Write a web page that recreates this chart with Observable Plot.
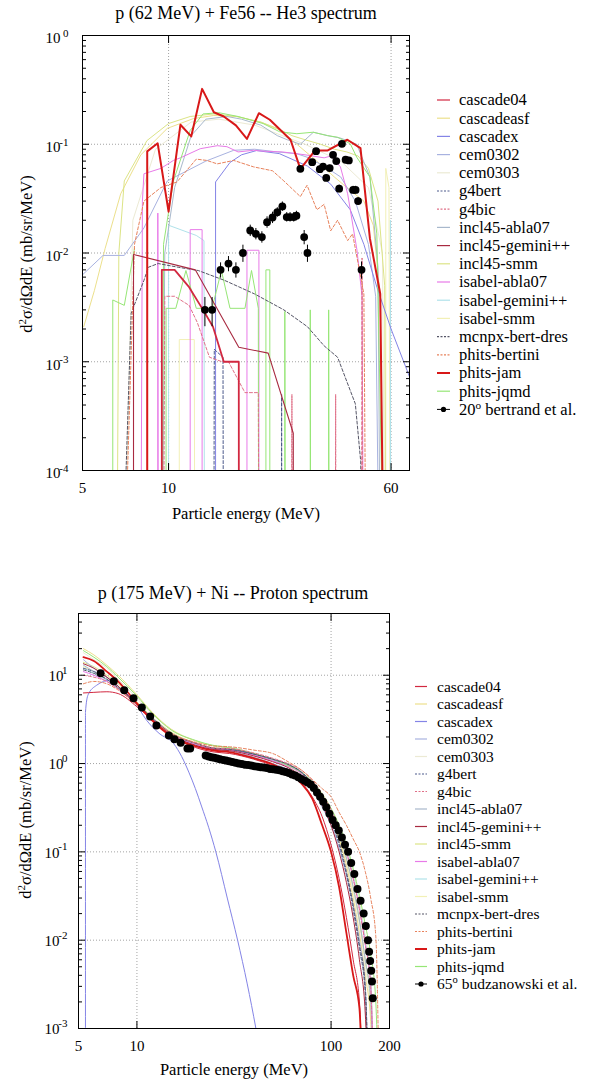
<!DOCTYPE html>
<html><head><meta charset="utf-8">
<script src="https://cdn.jsdelivr.net/npm/d3@7"></script>
<script src="https://cdn.jsdelivr.net/npm/@observablehq/plot@0.6"></script>
<style>
body{margin:0;background:#fff;}
#root{position:relative;width:598px;height:1082px;overflow:hidden;background:#fff;}
#root svg{position:absolute;left:0;}
</style></head>
<body><div id="root"></div>
<script>
// ---------------- text ----------------
const topTitle = "p (62 MeV) + Fe56 -- He3 spectrum";
const botTitle = "p (175 MeV) + Ni -- Proton spectrum";
const xLabel = "Particle energy (MeV)";
const topDataLabel = ["20", "o", " bertrand et al."];
const botDataLabel = ["65", "o", " budzanowski et al."];

// ---------------- axes ----------------
const topXTicks = [5, 10, 60];
const topXGrid = [10, 60];
const topYTicks = [1e-4, 1e-3, 1e-2, 1e-1, 1];
const botXTicks = [5, 10, 100, 200];
const botXGrid = [10, 100];
const botYTicks = [1e-3, 1e-2, 1e-1, 1, 10];

// ---------------- legend ----------------
const modelNames = ["cascade04","cascadeasf","cascadex","cem0302","cem0303","g4bert","g4bic",
  "incl45-abla07","incl45-gemini++","incl45-smm","isabel-abla07","isabel-gemini++","isabel-smm",
  "mcnpx-bert-dres","phits-bertini","phits-jam","phits-jqmd"];
const modelColors = ["#d22840","#ece08c","#8484e6","#a8b2e0","#ecead4","#4c5a8c","#e07088",
  "#a8b8cc","#a82a40","#dce486","#e87ae8","#b0e2ea","#f2f0b6",
  "#555566","#e8825c","#d81818","#96e676"];
const modelDash = [null,null,null,null,null,"3,2","3,2",null,null,null,null,null,null,"3,2","3,2",null,null];

// ---------------- top panel data: [E (MeV), d2s (mb/sr/MeV)] ----------------
const topCascade04 = [[9.47,1e-5],[9.47,0.007],[10.5,0.007],[11.8,0.00485],[13.2,0.003],[14.3,0.0021],[15.6,0.001],[17.6,0.001],[17.62,1e-5]];
const topCascadeasf = [[5.05,0.0021],[5.5,0.0045],[6.0,0.011],[6.8,0.035],[8.0,0.08],[9.9,0.14],[12.2,0.172],[14.4,0.184],[17.3,0.18],[21,0.16],[24.5,0.135],[28.1,0.1],[33,0.07],[38,0.05],[43,0.038],[48.2,0.03],[52,0.018],[55,0.004],[56,1e-5]];
const topCascadex = [[14.6,1e-5],[14.6,0.045],[16.4,0.068],[18,0.08],[20.3,0.0875],[24.4,0.082],[30.6,0.063],[36.9,0.043],[43.2,0.025],[48.2,0.012],[53.6,0.0048],[60,0.002],[70,0.0007]];
const topCem0302 = [[5.0,0.0063],[5.9,0.0095],[7.0,0.0095],[8.2,0.017],[9.9,0.046],[11.6,0.057],[13.5,0.07],[16.9,0.088],[20,0.09],[24,0.085],[28,0.082],[31,0.075],[36,0.06],[40,0.05],[45,0.03],[50,0.012],[53,0.004],[54.5,1e-5]];
const topCem0303 = [[7.0,1e-5],[7.5,0.02],[9,0.09],[12,0.16],[15,0.17],[20,0.15],[30,0.1],[40,0.07],[50,0.04],[56,0.01],[57,1e-5]];
const topG4bert = [[14.4,1e-5],[14.45,0.0013],[15.5,0.0011],[15.55,1e-5],[24.8,1e-5],[24.85,0.0005],[24.9,1e-5]];
const topG4bic = [[9.6,1e-5],[9.7,0.004],[10.5,0.004],[11.8,0.0033],[12.6,0.0023],[13.9,0.0011],[15.4,0.001],[16.2,0.001],[18.5,0.00052],[20.6,0.00052],[20.7,1e-5],[26.9,1e-5],[27.0,0.0005],[27.1,1e-5],[38.3,1e-5],[38.4,0.0005],[38.5,1e-5],[47.3,1e-5],[47.5,0.009],[47.7,1e-5]];
const topIncl45Abla07 = [[9.5,1e-5],[9.7,0.01],[10.5,0.04],[12,0.12],[13.5,0.17],[16,0.18],[18,0.17],[21,0.15],[24,0.12],[26,0.11],[28.9,0.1],[32.1,0.129],[36,0.12],[39.9,0.114],[45.5,0.1],[50.6,0.05],[54,0.0074],[55,1e-5]];
const topIncl45Gemini = [[7.54,1e-5],[7.54,0.0097],[12.4,0.007],[17.6,0.00136],[22.3,0.0012],[27.3,0.00022],[27.32,1e-5]];
const topIncl45Smm = [[6.6,1e-5],[6.7,0.01],[7.0,0.046],[8.4,0.108],[10,0.155],[11.9,0.18],[14.4,0.19],[17.3,0.18],[21,0.16],[24,0.14],[27,0.12],[30,0.11],[34,0.1],[38,0.09],[42,0.085],[46,0.078],[50,0.06],[54,0.03],[57,0.005],[57.5,1e-5]];
const topIsabelAbla07 = [[8.0,1e-5],[8.1,0.03],[8.2,0.0535],[9.4,0.06],[10.4,0.071],[11,0.075],[12.9,0.091],[14.8,0.097],[16,0.095],[17.5,0.085],[19.8,0.088],[22,0.086],[25,0.085],[30,0.08],[35,0.075],[37,0.078],[39.9,0.062],[42.3,0.035],[45.6,0.0106],[47.5,0.004],[48,1e-5]];
const topIsabelAbla07Low = [[9.17,1e-5],[9.17,0.0233],[9.2,1e-5],[11.9,1e-5],[11.9,0.0164],[13.1,0.0164],[13.1,1e-5],[18.8,1e-5],[18.8,0.0106],[20.7,0.0106],[20.7,1e-5]];
const topIsabelGemini = [[10,1e-5],[10,0.018],[12.5,0.0145],[13.3,0.013],[13.35,1e-5],[59.7,1e-5],[59.7,0.02],[59.8,1e-5]];
const topIsabelSmm = [[10.9,1e-5],[10.9,0.0016],[12.3,0.0016],[12.35,1e-5],[57.5,1e-5],[57.5,0.06],[59,0.04],[59.5,1e-5]];
const topMcnpx = [[6.9,1e-5],[7.4,0.0028],[8.2,0.0056],[8.5,0.0074],[9.2,0.008],[10.8,0.0074],[12.7,0.0069],[15.7,0.0056],[20,0.0042],[25.3,0.003],[30.6,0.0021],[35,0.0014],[39,0.0011],[45,0.00041],[47,0.00012],[47.2,1e-5]];
const topPhitsBertini = [[7.0,1e-5],[7.6,0.012],[8.2,0.03],[9.4,0.04],[10.7,0.045],[12.5,0.073],[13.6,0.071],[14.8,0.066],[16.9,0.071],[19.8,0.062],[23.1,0.057],[25.3,0.046],[28.9,0.033],[30.5,0.042],[33,0.025],[35,0.028],[36.9,0.016],[39,0.02],[42.3,0.013],[44,0.015],[45.6,0.0091],[48.2,0.0042],[49,1e-5]];
const topPhitsJam = [[8.42,1e-5],[8.42,0.086],[9.16,0.102],[10.0,0.024],[11.0,0.151],[12.0,0.118],[13.1,0.323],[14.4,0.197],[15.6,0.18],[17.2,0.149],[18.8,0.112],[20.7,0.193],[22.6,0.168],[26.7,0.11],[28.9,0.0594],[32.5,0.0875],[35.9,0.0875],[42.2,0.11],[46.9,0.092],[50.6,0.0136],[55,0.0042],[56.5,1e-5]];
const topPhitsJqmd = [[9.5,1e-5],[9.6,0.012],[10.4,0.046],[11.9,0.134],[13.2,0.19],[15,0.195],[17.5,0.18],[21.4,0.155],[24.5,0.13],[28.1,0.125],[32,0.129],[36,0.12],[39,0.116],[43.2,0.101],[45.5,0.076],[50.6,0.05],[53.5,0.015],[56.5,1e-5]];
const topPhitsJqmdLow = [[6.38,1e-5],[6.38,0.0037],[7.0,0.0033],[7.6,0.011],[7.6,NaN],[9.8,1e-5],[9.8,0.0031],[10.6,0.0031],[11.5,0.0069],[12.5,0.0031],[14.2,0.0031],[15.3,0.0069],[16.4,0.0031],[18.5,0.0031],[19.5,0.0069],[20.6,0.0031],[20.65,1e-5],[21.9,1e-5],[21.9,0.007],[22.6,0.007],[22.6,1e-5],[25.5,1e-5],[25.5,0.0029],[25.6,1e-5],[31.3,1e-5],[31.3,0.003],[31.4,1e-5],[36.3,1e-5],[36.3,0.003],[36.4,1e-5]];

// bertrand et al. 20 deg
const topDataE = [13.4,14.2,15.2,16.2,17.2,18.2,19.3,20.2,21.2,22.1,23.1,24.0,25.0,25.9,26.6,27.4,28.0,28.9,29.8,30.6,31.8,32.8,33.8,34.7,35.6,36.6,37.6,38.6,39.5,40.4,41.6,42.7,44.2,45.1,46.0,47.3];
const topDataV = [0.0030,0.0030,0.0070,0.0080,0.0070,0.0100,0.0161,0.0150,0.0140,0.0192,0.0212,0.0237,0.0268,0.0214,0.0214,0.0214,0.0220,0.0594,0.0140,0.0100,0.0684,0.0863,0.0590,0.0623,0.0490,0.0604,0.0800,0.0700,0.0390,0.101,0.0720,0.0710,0.0380,0.0380,0.0300,0.0070];
const topDataErr = [0.3,0.3,0.16,0.16,0.16,0.18,0.12,0.12,0.12,0.12,0.12,0.1,0.1,0.1,0.1,0.1,0.1,0.06,0.15,0.18,0.06,0.05,0.06,0.06,0.06,0.06,0.05,0.05,0.08,0.05,0.06,0.06,0.08,0.08,0.08,0.18];

// ---------------- bottom panel data ----------------
const botE = [5.3,6,7,8,10,12,15,20,25,30,40,50,60,70,80,90,100,110,120,130,140,150,160,170,180];
const botCascade04 = [6.3,6.4,6.5,6.2,4.4,3.1,2.05,1.52,1.35,1.3,1.12,0.95,0.8,0.62,0.42,0.25,0.12,0.05,0.018,0.006,0.002,1e-5];
const botCascadeasf = [20,17,13,10,6,3.8,2.45,1.8,1.58,1.5,1.3,1.1,0.95,0.78,0.58,0.4,0.25,0.14,0.07,0.03,0.012,0.004,0.0012,1e-5];
const botCem0302 = [15,12,9.5,7.5,4.8,3.25,2.2,1.65,1.44,1.38,1.18,1.0,0.86,0.7,0.5,0.32,0.2,0.11,0.055,0.025,0.01,0.003,1e-5];
const botCem0303 = [18,15,12,9,5.5,3.6,2.45,1.82,1.58,1.5,1.28,1.08,0.92,0.76,0.56,0.38,0.24,0.14,0.075,0.035,0.015,0.005,0.0015,1e-5];
const botG4bert = [12,11,9.5,7.5,4.8,3.25,2.2,1.7,1.49,1.45,1.28,1.12,0.98,0.8,0.58,0.38,0.22,0.12,0.055,0.022,0.008,0.0025,1e-5];
const botG4bic = [10,9.5,8.5,7,4.6,3.15,2.2,1.7,1.5,1.48,1.32,1.15,1.0,0.85,0.65,0.45,0.3,0.18,0.1,0.05,0.022,0.009,0.003,1e-5];
const botIncl45Abla07 = [13,11,9,7.2,4.6,3.15,2.12,1.61,1.44,1.42,1.25,1.08,0.95,0.8,0.6,0.42,0.27,0.16,0.085,0.04,0.017,0.006,0.002,1e-5];
const botIncl45Gemini = [13.5,12,9.5,7.5,4.7,3.15,2.12,1.61,1.44,1.4,1.22,1.05,0.9,0.72,0.52,0.34,0.2,0.1,0.045,0.018,0.006,0.0015,1e-5];
const botIncl45Smm = [14,12.5,10,8,5,3.33,2.25,1.7,1.5,1.46,1.27,1.1,0.96,0.8,0.6,0.42,0.27,0.16,0.085,0.04,0.017,0.006,0.002,1e-5];
const botIsabelAbla07 = [11,10,8.5,7,4.7,3.25,2.2,1.65,1.47,1.43,1.25,1.08,0.93,0.78,0.6,0.43,0.29,0.18,0.1,0.05,0.023,0.009,0.003,1e-5];
const botIsabelGemini = [12,10.5,8.8,7.2,4.8,3.25,2.2,1.65,1.49,1.45,1.27,1.1,0.95,0.8,0.62,0.45,0.3,0.19,0.11,0.055,0.025,0.01,0.0035,1e-5];
const botIsabelSmm = [12.5,11,9,7.3,4.9,3.33,2.3,1.7,1.5,1.47,1.28,1.1,0.96,0.81,0.63,0.46,0.31,0.2,0.11,0.06,0.028,0.011,0.004,1e-5];
const botMcnpx = [11.5,10.5,9,7.2,4.7,3.25,2.2,1.7,1.49,1.45,1.28,1.12,0.98,0.81,0.6,0.4,0.24,0.13,0.06,0.025,0.009,0.003,1e-5];
const botPhitsBertini = [8,8.5,8,6.8,4.6,3.15,2.2,1.74,1.58,1.55,1.42,1.3,1.05,0.85,0.66,0.52,0.42,0.28,0.2,0.14,0.1,0.06,0.03,0.011,1e-5];
const botPhitsJam = [16,14.5,11,8.5,4.8,3.06,2.04,1.57,1.4,1.35,1.15,0.98,0.8,0.6,0.4,0.2,0.1,0.04,0.012,0.004,0.0017,1e-5];
const botPhitsJqmd = [19,16,12.5,9.5,5.8,3.7,2.4,1.83,1.6,1.52,1.3,1.12,0.95,0.8,0.62,0.45,0.31,0.2,0.12,0.065,0.032,0.015,0.007,0.002,1e-5];
const botCascadexE = [5.43,5.43,5.6,6.2,7.3,8.5,9.6,11.2,13,15.5,17,18.5,20,21.5,23.4,25.5,29.2,33,37,41,45];
const botCascadexV = [1e-5,3.8,6.0,7.7,8.8,6.5,5.2,3.1,2.2,1.67,1.2,0.8,0.52,0.33,0.19,0.1,0.03,0.01,0.0032,0.001,0.0003];

// budzanowski et al. 65 deg
const botDataE = [6.5,7.6,8.6,9.6,10.6,11.7,12.6,14.6,15.6,16.8,18.2,18.8,22.6,23.4,24.2,25.0,25.9,26.8,27.8,28.8,29.9,31.0,32.2,33.4,34.7,36.0,37.4,38.8,40.3,41.8,43.4,45.0,46.7,48.5,50.3,52.2,54.2,56.3,58.4,60.6,62.9,65.3,67.8,70.3,73.0,75.7,78.6,81.5,84.6,87.8,91.1,94.5,98.1,101.8,105.6,109.6,113.7,118,122.4,127,131.8,136.8,141.9,147.2,151,155,157,159,161,162.5,164];
const botDataV = [10.5,8.55,6.75,5.5,4.3,3.4,2.7,2.08,1.88,1.72,1.48,1.48,1.23,1.2,1.18,1.16,1.14,1.12,1.1,1.08,1.06,1.04,1.02,1.0,0.99,0.97,0.96,0.95,0.93,0.92,0.91,0.9,0.89,0.87,0.86,0.85,0.84,0.82,0.8,0.78,0.75,0.73,0.7,0.67,0.64,0.61,0.58,0.53,0.47,0.42,0.37,0.32,0.27,0.23,0.2,0.175,0.145,0.12,0.1,0.075,0.056,0.038,0.028,0.02,0.0145,0.01,0.0074,0.0058,0.0045,0.0034,0.0022];

// ---------------- assemble ----------------
const FONT = '"Liberation Serif","Times New Roman",Times,serif';
const topParts = {
  "cascade04":[topCascade04],"cascadeasf":[topCascadeasf],"cascadex":[topCascadex],"cem0302":[topCem0302],
  "cem0303":[topCem0303],"g4bert":[topG4bert],"g4bic":[topG4bic],"incl45-abla07":[topIncl45Abla07],
  "incl45-gemini++":[topIncl45Gemini],"incl45-smm":[topIncl45Smm],"isabel-abla07":[topIsabelAbla07,topIsabelAbla07Low],
  "isabel-gemini++":[topIsabelGemini],"isabel-smm":[topIsabelSmm],"mcnpx-bert-dres":[topMcnpx],
  "phits-bertini":[topPhitsBertini],"phits-jam":[topPhitsJam],"phits-jqmd":[topPhitsJqmd,topPhitsJqmdLow]
};
const zipBot = v => v.map((y,i)=>[botE[i], y]);
const botParts = {
  "cascade04":[zipBot(botCascade04)],"cascadeasf":[zipBot(botCascadeasf)],
  "cascadex":[botCascadexE.map((e,i)=>[e, botCascadexV[i]])],"cem0302":[zipBot(botCem0302)],
  "cem0303":[zipBot(botCem0303)],"g4bert":[zipBot(botG4bert)],"g4bic":[zipBot(botG4bic)],
  "incl45-abla07":[zipBot(botIncl45Abla07)],"incl45-gemini++":[zipBot(botIncl45Gemini)],
  "incl45-smm":[zipBot(botIncl45Smm)],"isabel-abla07":[zipBot(botIsabelAbla07)],
  "isabel-gemini++":[zipBot(botIsabelGemini)],"isabel-smm":[zipBot(botIsabelSmm)],
  "mcnpx-bert-dres":[zipBot(botMcnpx)],"phits-bertini":[zipBot(botPhitsBertini)],
  "phits-jam":[zipBot(botPhitsJam)],"phits-jqmd":[zipBot(botPhitsJqmd)]
};
const drawOrder = ["cem0303","isabel-smm","cascadeasf","incl45-smm","isabel-gemini++","incl45-abla07","cem0302",
  "cascadex","isabel-abla07","phits-jqmd","g4bert","mcnpx-bert-dres","g4bic","phits-bertini","incl45-gemini++","cascade04","phits-jam"];
function seriesFor(parts, widths) {
  return drawOrder.map(n => {
    const i = modelNames.indexOf(n);
    return {name:n, color:modelColors[i], dash:modelDash[i], parts:parts[n], width:widths[n] || 1};
  });
}
function minorTicks(lo, hi) {
  const t = [];
  for (let d = lo; d < hi; d++) for (let k = 2; k <= 9; k++) t.push(k * Math.pow(10, d));
  return t;
}

function makePanel(c) {
  const grid = {stroke:"#8c8c8c", strokeWidth:0.8, strokeDasharray:"1,2"};
  const marks = [
    Plot.ruleY(c.yTicks, {y:d=>d, ...grid}),
    Plot.ruleX(c.xGrid, {x:d=>d, ...grid})
  ];
  for (const s of c.series) for (const p of s.parts) {
    const o = {x:d=>d[0], y:d=>d[1], stroke:s.color, strokeWidth:s.width, curve:c.curve, clip:true};
    if (s.dash) o.strokeDasharray = s.dash;
    marks.push(Plot.line(p, o));
  }
  if (c.errors) marks.push(Plot.ruleX(c.points, {x:"e", y1:"lo", y2:"hi", stroke:"black", strokeWidth:1}));
  marks.push(Plot.dot(c.points, {x:"e", y:"v", r:c.r, fill:"black", stroke:"none"}));
  const tk = {tickFormat:()=>"", label:null, stroke:"black"};
  marks.push(
    Plot.axisY(c.yTicks, {anchor:"left", tickSize:7, dx:7, ...tk}),
    Plot.axisY(c.yMinor, {anchor:"left", tickSize:4, dx:4, ...tk}),
    Plot.axisY(c.yTicks, {anchor:"right", tickSize:7, dx:-7, ...tk}),
    Plot.axisY(c.yMinor, {anchor:"right", tickSize:4, dx:-4, ...tk}),
    Plot.axisX(c.xTicks, {anchor:"bottom", tickSize:7, dy:-7, ...tk}),
    Plot.axisX(c.xTicks, {anchor:"top", tickSize:7, dy:7, ...tk}),
    Plot.text(c.xTicks, {x:d=>d, frameAnchor:"bottom", dy:18, text:d=>String(d), fontSize:15, lineAnchor:"middle"}),
    Plot.text(c.yTicks.filter(d=>d<1), {y:d=>d, frameAnchor:"left", dx:c.baseNegDx, dy:c.baseDy, text:()=>"10", textAnchor:"end", fontSize:15, lineAnchor:"middle"}),
    Plot.text(c.yTicks.filter(d=>d>=1), {y:d=>d, frameAnchor:"left", dx:c.basePosDx, dy:c.baseDy, text:()=>"10", textAnchor:"end", fontSize:15, lineAnchor:"middle"}),
    Plot.text(c.yTicks, {y:d=>d, frameAnchor:"left", dx:c.expDx, dy:c.expDy, text:d=>String(Math.round(Math.log10(d))), textAnchor:"end", fontSize:11, lineAnchor:"middle"}),
    Plot.frame({stroke:"black", strokeWidth:1})
  );
  return Plot.plot({
    width:598, height:c.height,
    marginLeft:c.mL, marginRight:c.mR, marginTop:c.mT, marginBottom:c.mB,
    x:{type:"log", domain:c.xDomain},
    y:{type:"log", domain:c.yDomain},
    style:{fontFamily:FONT, fontSize:"15px", color:"black", background:"transparent", overflow:"visible"},
    marks
  });
}

const topPoints = topDataE.map((e,i)=>({e, v:topDataV[i], lo:topDataV[i]*(1-topDataErr[i]), hi:topDataV[i]*(1+topDataErr[i])}));
const botPoints = botDataE.map((e,i)=>({e, v:botDataV[i]}));

const root = document.getElementById("root");
const topSvg = makePanel({
  height:540, mL:82, mR:189, mT:35, mB:70,
  xDomain:[5,69.6], yDomain:[1e-4,1],
  xTicks:topXTicks, xGrid:topXGrid, yTicks:topYTicks, yMinor:minorTicks(-4,0),
  series:seriesFor(topParts, {"phits-jam":2, "cascade04":1.8, "incl45-gemini++":1.1}),
  curve:"linear", points:topPoints, errors:true, r:3.9,
  basePosDx:-22, baseNegDx:-22, expDx:-14, baseDy:3, expDy:-2
});
topSvg.style.top = "0px";
root.appendChild(topSvg);
const botSvg = makePanel({
  height:542, mL:78, mR:209, mT:73, mB:54,
  xDomain:[5,200], yDomain:[1e-3,50],
  xTicks:botXTicks, xGrid:botXGrid, yTicks:botYTicks, yMinor:minorTicks(-3,2).filter(v=>v<=50),
  series:seriesFor(botParts, {"phits-jam":1.8}),
  curve:"monotone-x", points:botPoints, errors:false, r:4,
  basePosDx:-15, baseNegDx:-19, expDx:-11, baseDy:1, expDy:-5
});
botSvg.style.top = "540px";
root.appendChild(botSvg);

// ---------------- overlay: titles, labels, legends ----------------
const ov = d3.select(root).append("svg").attr("width",598).attr("height",1082)
  .style("top","0px").style("font-family",FONT).style("pointer-events","none");

function title(x, y, s) {
  ov.append("text").attr("x",x).attr("y",y).attr("text-anchor","middle").attr("dy","0.35em")
    .attr("font-size",18).text(s);
}
function xlab(x, y) {
  ov.append("text").attr("x",x).attr("y",y).attr("text-anchor","middle").attr("dy","0.35em")
    .attr("font-size",16.5).text(xLabel);
}
function ylab(x, y) {
  const t = ov.append("text").attr("transform",`translate(${x},${y}) rotate(-90)`)
    .attr("text-anchor","middle").attr("dy","0.35em").attr("font-size",16.5);
  t.append("tspan").text("d");
  t.append("tspan").attr("font-size",11).attr("dy",-6).text("2");
  t.append("tspan").attr("dy",6).text("σ/dΩdE (mb/sr/MeV)");
}
function legend(x0, x1, xt, y0, dy, fs, dataLabel) {
  modelNames.forEach((n, i) => {
    const y = y0 + i*dy;
    const l = ov.append("line").attr("x1",x0).attr("x2",x1).attr("y1",y).attr("y2",y)
      .attr("stroke",modelColors[i]).attr("stroke-width", n==="phits-jam" ? 2 : 1.2);
    if (modelDash[i]) l.attr("stroke-dasharray","2,1.5");
    ov.append("text").attr("x",xt).attr("y",y).attr("dy","0.33em").attr("font-size",fs).text(n);
  });
  const y = y0 + modelNames.length*dy;
  ov.append("line").attr("x1",x0).attr("x2",x1).attr("y1",y).attr("y2",y).attr("stroke","black").attr("stroke-width",1);
  ov.append("circle").attr("cx",(x0+x1)/2).attr("cy",y).attr("r",2.6).attr("fill","black");
  const t = ov.append("text").attr("x",xt).attr("y",y).attr("dy","0.33em").attr("font-size",fs);
  t.append("tspan").text(dataLabel[0]);
  t.append("tspan").attr("font-size",fs*0.68).attr("dy",-6).text(dataLabel[1]);
  t.append("tspan").attr("dy",6).text(dataLabel[2]);
}

title(246, 13, topTitle);
title(233, 593, botTitle);
xlab(246, 513);
xlab(234, 1069);
ylab(26, 254);
ylab(25, 820);
legend(437, 450, 459, 100, 18.2, 16.5, topDataLabel);
legend(415, 427, 437, 686.5, 17.5, 15.5, botDataLabel);
</script>
</body></html>
